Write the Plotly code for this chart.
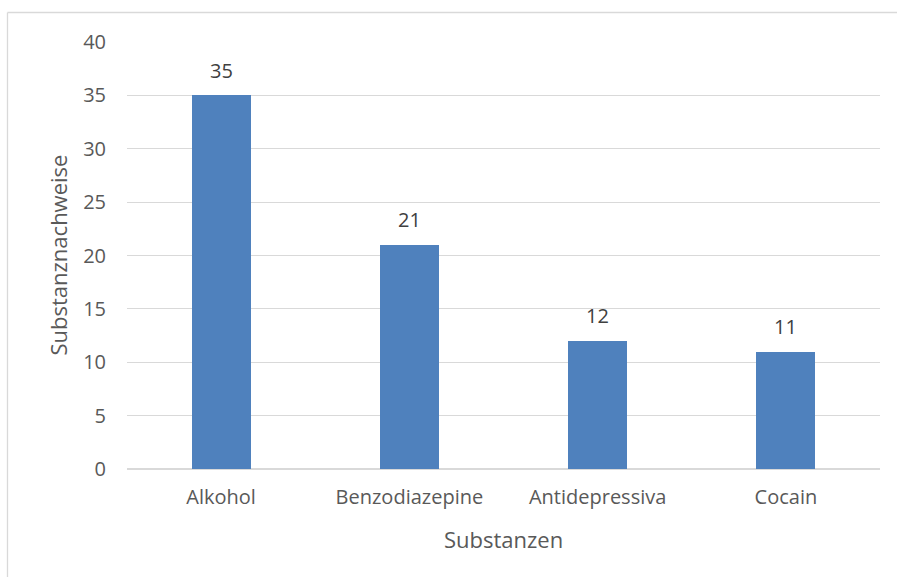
import plotly.graph_objects as go

categories = ["Alkohol", "Benzodiazepine", "Antidepressiva", "Cocain"]
values = [35, 21, 12, 11]
y_ticks = [0, 5, 10, 15, 20, 25, 30, 35, 40]
x_title = "Substanzen"
y_title = "Substanznachweise"

W, H = 897, 577
L, R, T, B = 127, 17, 42, 108
pw, ph = W - L - R, H - T - B

fig = go.Figure()
fig.add_trace(go.Bar(
    x=categories, y=values,
    marker=dict(color="#4F81BD", line=dict(width=0)),
    width=0.313,
    hoverinfo="x+y",
))

for c, v in zip(categories, values):
    fig.add_annotation(
        x=c, y=v, xref="x", yref="y", text=str(v), showarrow=False,
        yanchor="middle", yshift=25,
        font=dict(family="Open Sans", size=20, color="#404040"),
    )

# axis titles
fig.add_annotation(
    x=0.5, y=(469 - 539) / ph, xref="paper", yref="paper", text=x_title,
    showarrow=False, xanchor="center", yanchor="middle",
    font=dict(family="Open Sans", size=22, color="#595959"),
)
fig.add_annotation(
    x=(57 - L) / pw, y=0.5, xref="paper", yref="paper", text=y_title,
    showarrow=False, xanchor="center", yanchor="middle", textangle=-90,
    font=dict(family="Open Sans", size=22, color="#595959"),
)

# chart border (left and top edges visible in the frame)
bx0 = (7.5 - L) / pw
bx1 = (W - L) / pw
by_top = 1 + (T - 12.5) / ph
by_bot = -(H - (T + ph)) / ph
fig.add_shape(type="line", xref="paper", yref="paper",
              x0=bx0, x1=bx0, y0=by_bot, y1=by_top,
              line=dict(color="#D9D9D9", width=1.3), layer="below")
fig.add_shape(type="line", xref="paper", yref="paper",
              x0=bx0, x1=bx1, y0=by_top, y1=by_top,
              line=dict(color="#D9D9D9", width=1.3), layer="below")

fig.update_layout(
    width=W, height=H,
    margin=dict(l=L, r=R, t=T, b=B, autoexpand=False),
    paper_bgcolor="white", plot_bgcolor="white",
    showlegend=False,
    bargap=0,
    font=dict(family="Open Sans", size=20, color="#595959"),
    xaxis=dict(
        showgrid=False, showline=False, zeroline=False, ticks="",
        tickfont=dict(family="Open Sans", size=20, color="#595959"),
        ticklabelstandoff=14,
    ),
    yaxis=dict(
        range=[0, 40], tickvals=y_ticks, ticktext=[str(t) for t in y_ticks],
        showgrid=True, gridcolor="#D9D9D9", gridwidth=1.3,
        zeroline=True, zerolinecolor="#D9D9D9", zerolinewidth=1.5,
        showline=False, ticks="",
        tickfont=dict(family="Open Sans", size=20, color="#595959"),
        ticklabelstandoff=20,
    ),
)

fig.write_html("out.html", config={"displayModeBar": False})
